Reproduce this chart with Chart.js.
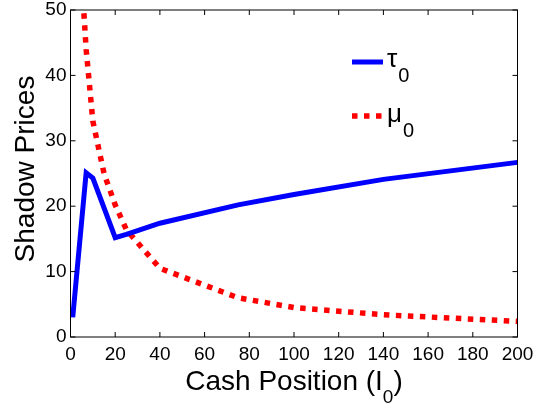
<!DOCTYPE html>
<html>
<head>
<meta charset="utf-8">
<script src="https://cdn.jsdelivr.net/npm/chart.js@4.4.1/dist/chart.umd.min.js"></script>
<style>
  html, body { margin: 0; padding: 0; background: #fff; }
  #wrap { width: 534px; height: 405px; position: relative; }
</style>
</head>
<body>
<div id="wrap"><canvas id="c" width="534" height="405"></canvas></div>
<script>
// ---- data ----
const tauX = [1, 7, 10, 20, 25, 40, 75, 100, 140, 200];
const tauY = [3, 25.1, 24.3, 15.2, 15.7, 17.4, 20.2, 21.8, 24.1, 26.7];
const muX  = [5, 7, 10, 15, 20, 25, 40, 75, 100, 140, 200];
const muY  = [55, 44, 33, 25, 20.2, 16.4, 10.5, 6, 4.5, 3.4, 2.4];
const xTicks = [0, 20, 40, 60, 80, 100, 120, 140, 160, 180, 200];
const yTicks = [0, 10, 20, 30, 40, 50];
const seriesNames = ['\u03C4', '\u03BC']; // tau, mu (subscript 0 added when drawn)
const xTitle = ['Cash Position (I', '0', ')'];
const yTitle = 'Shadow Prices';

const FONT = '"Liberation Sans", Arial, Helvetica, sans-serif';
const BLUE = '#0000FF', RED = '#FF0000';

const toPts = (xs, ys) => xs.map((v, i) => ({ x: v, y: ys[i] }));

const decor = {
  id: 'decor',
  afterDraw(chart) {
    const { ctx, chartArea: { left, right, top, bottom }, scales: { x, y } } = chart;
    ctx.save();
    ctx.strokeStyle = '#000';
    ctx.lineWidth = 1;
    ctx.strokeRect(left, top, right - left, bottom - top);
    ctx.beginPath();
    x.ticks.forEach(t => {
      const px = x.getPixelForValue(t.value);
      ctx.moveTo(px, bottom); ctx.lineTo(px, bottom - 5);
      ctx.moveTo(px, top); ctx.lineTo(px, top + 5);
    });
    y.ticks.forEach(t => {
      const py = y.getPixelForValue(t.value);
      ctx.moveTo(left, py); ctx.lineTo(left + 5, py);
      ctx.moveTo(right, py); ctx.lineTo(right - 5, py);
    });
    ctx.stroke();

    // legend
    const ds = chart.data.datasets;
    const entries = [{ y: 62, base: 67 }, { y: 116, base: 122 }];
    entries.forEach((e, i) => {
      ctx.save();
      ctx.strokeStyle = ds[i].borderColor;
      ctx.lineWidth = ds[i].borderWidth;
      ctx.lineCap = 'butt';
      ctx.setLineDash(ds[i].borderDash || []);
      ctx.beginPath();
      ctx.moveTo(352, e.y); ctx.lineTo(383, e.y);
      ctx.stroke();
      ctx.restore();
      ctx.fillStyle = '#000';
      ctx.textAlign = 'left';
      ctx.textBaseline = 'alphabetic';
      ctx.font = '26px ' + FONT;
      ctx.fillText(seriesNames[i], 387, e.base);
      const w = ctx.measureText(seriesNames[i]).width;
      ctx.font = '20px ' + FONT;
      ctx.fillText('0', 387 + w + 1, e.base + 15);
    });

    // x title
    ctx.fillStyle = '#000';
    ctx.textBaseline = 'alphabetic';
    ctx.textAlign = 'left';
    ctx.font = '28px ' + FONT;
    const w1 = ctx.measureText(xTitle[0]).width;
    const w3 = ctx.measureText(xTitle[2]).width;
    ctx.font = '19px ' + FONT;
    const w2 = ctx.measureText(xTitle[1]).width;
    const cx = (left + right) / 2;
    let sx = cx - (w1 + w2 + w3) / 2;
    ctx.font = '28px ' + FONT;
    ctx.fillText(xTitle[0], sx, 389.5);
    ctx.font = '19px ' + FONT;
    ctx.fillText(xTitle[1], sx + w1, 403);
    ctx.font = '28px ' + FONT;
    ctx.fillText(xTitle[2], sx + w1 + w2, 389.5);

    // y title
    ctx.save();
    ctx.translate(33.5, 169);
    ctx.rotate(-Math.PI / 2);
    ctx.textAlign = 'center';
    ctx.font = '28px ' + FONT;
    ctx.fillText(yTitle, 0, 0);
    ctx.restore();

    ctx.restore();
  }
};

new Chart(document.getElementById('c'), {
  type: 'line',
  data: {
    datasets: [
      {
        label: '\u03C40',
        data: toPts(tauX, tauY),
        borderColor: BLUE,
        backgroundColor: BLUE,
        borderWidth: 5,
        borderJoinStyle: 'miter',
        borderCapStyle: 'butt',
        pointRadius: 0,
        tension: 0,
        clip: 0
      },
      {
        label: '\u03BC0',
        data: toPts(muX, muY),
        borderColor: RED,
        backgroundColor: RED,
        borderWidth: 5.5,
        borderDash: [5.5, 6.5],
        borderCapStyle: 'butt',
        pointRadius: 0,
        tension: 0,
        clip: 0
      }
    ]
  },
  options: {
    responsive: false,
    animation: false,
    devicePixelRatio: 1,
    layout: { padding: { top: 10, right: 16.5, left: 0, bottom: 0 } },
    plugins: { legend: { display: false }, tooltip: { enabled: false } },
    scales: {
      x: {
        type: 'linear',
        min: 0, max: 200,
        afterBuildTicks: s => { s.ticks = xTicks.map(v => ({ value: v })); },
        afterFit: s => { s.height = 68; s.paddingLeft = 0; s.paddingRight = 0; },
        grid: { display: false, drawTicks: false },
        border: { display: false },
        ticks: { padding: 6, color: '#000', font: { family: FONT, size: 19 }, maxRotation: 0, autoSkip: false }
      },
      y: {
        type: 'linear',
        min: 0, max: 50,
        afterBuildTicks: s => { s.ticks = yTicks.map(v => ({ value: v })); },
        afterFit: s => { s.width = 70.5; s.paddingTop = 0; s.paddingBottom = 0; },
        grid: { display: false, drawTicks: false },
        border: { display: false },
        ticks: { padding: 4, color: '#000', font: { family: FONT, size: 19 }, autoSkip: false }
      }
    }
  },
  plugins: [decor]
});
</script>
</body>
</html>
